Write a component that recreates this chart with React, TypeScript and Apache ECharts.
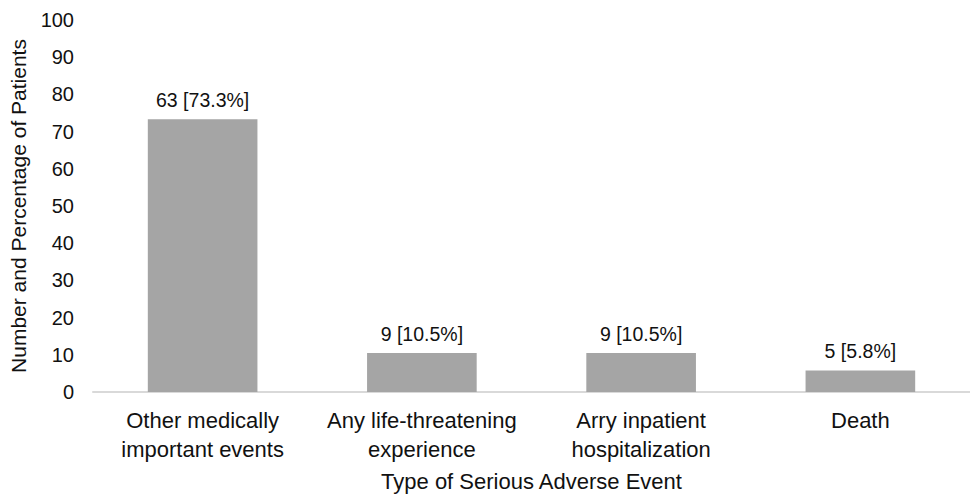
import React, { useEffect, useRef } from "react";
import * as echarts from "echarts";

const categories = [
  "Other medically\nimportant events",
  "Any life-threatening\nexperience",
  "Arry inpatient\nhospitalization",
  "Death",
];
const percentages = [73.3, 10.5, 10.5, 5.8];
const counts = [63, 9, 9, 5];
const yTicks = { min: 0, max: 100, interval: 10 };

export default function App() {
  const ref = useRef<HTMLDivElement>(null);
  useEffect(() => {
    if (!ref.current) return;
    const chart = echarts.init(ref.current, null, { renderer: "svg" });
    const font = "Liberation Sans, Arial, sans-serif";
    chart.setOption({
      animation: false,
      grid: { left: 93, right: -7, top: 20, height: 373, containLabel: false },
      xAxis: {
        type: "category",
        data: categories,
        axisLine: { show: true, lineStyle: { color: "#d9d9d9", width: 2 } },
        axisTick: { show: false },
        axisLabel: {
          color: "#111",
          fontSize: 22,
          fontFamily: font,
          lineHeight: 29,
          margin: 14,
          interval: 0,
        },
        name: "Type of Serious Adverse Event",
        nameLocation: "middle",
        nameGap: 78,
        nameTextStyle: { color: "#111", fontSize: 22, fontFamily: font },
      },
      yAxis: {
        type: "value",
        min: yTicks.min,
        max: yTicks.max,
        interval: yTicks.interval,
        axisLine: { show: false },
        axisTick: { show: false },
        splitLine: { show: false },
        axisLabel: { color: "#111", fontSize: 20, fontFamily: font, margin: 19 },
        name: "Number and Percentage of Patients",
        nameLocation: "middle",
        nameGap: 64,
        nameTextStyle: { color: "#111", fontSize: 21, fontFamily: font },
      },
      series: [
        {
          type: "bar",
          data: percentages,
          barWidth: "50%",
          itemStyle: { color: "#a5a5a5" },
          label: {
            show: true,
            position: "top",
            distance: 9,
            color: "#111",
            fontSize: 19.5,
            fontFamily: font,
            formatter: (p: any) => `${counts[p.dataIndex]} [${percentages[p.dataIndex].toFixed(1)}%]`,
          },
        },
      ],
    });
    return () => chart.dispose();
  }, []);
  return (
    <div
      ref={ref}
      style={{ position: "fixed", left: 0, top: 0, width: 970, height: 497, background: "#fff" }}
    />
  );
}
